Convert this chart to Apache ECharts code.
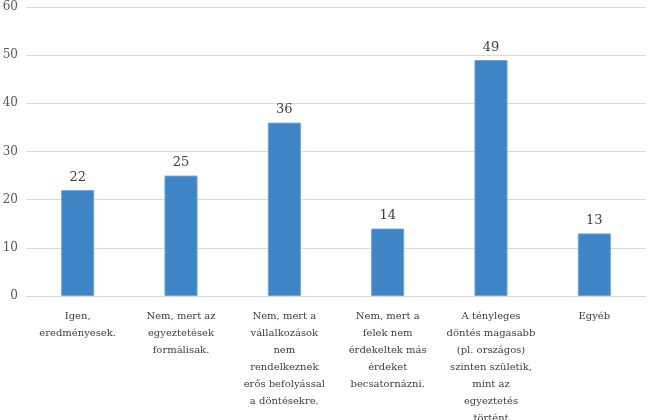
<!DOCTYPE html>
<html>
<head>
<meta charset="utf-8">
<script src="https://cdn.jsdelivr.net/npm/echarts@6/dist/echarts.min.js"></script>
<style>html,body{margin:0;padding:0;background:#fff}#c{width:656px;height:420px}</style>
</head>
<body>
<div id="c"></div>
<script>
const categories = [
  'Igen,\neredményesek.',
  'Nem, mert az\negyeztetések\nformálisak.',
  'Nem, mert a\nvállalkozások\nnem\nrendelkeznek\nerős befolyással\na döntésekre.',
  'Nem, mert a\nfelek nem\nérdekeltek más\nérdeket\nbecsatornázni.',
  'A tényleges\ndöntés magasabb\n(pl. országos)\nszinten születik,\nmint az\negyeztetés\ntörtént',
  'Egyéb'
];
const values = [22, 25, 36, 14, 49, 13];
const yTicks = { min: 0, max: 60, interval: 10 };

const font = 'DejaVu Serif';
const chart = echarts.init(document.getElementById('c'));
chart.setOption({
  animation: false,
  grid: { left: 26, right: 10, top: 7, bottom: 124, outerBoundsMode: 'none', containLabel: false },
  xAxis: {
    type: 'category',
    data: categories,
    axisLine: { lineStyle: { color: '#d9d9d9' } },
    axisTick: { show: false },
    axisLabel: { interval: 0, margin: 12, fontFamily: font, fontSize: 10, lineHeight: 17, color: '#404040', align: 'center' }
  },
  yAxis: {
    type: 'value',
    min: yTicks.min, max: yTicks.max, interval: yTicks.interval,
    axisLine: { show: false },
    axisTick: { show: false },
    splitLine: { lineStyle: { color: '#d9d9d9' } },
    axisLabel: { margin: 8, fontFamily: font, fontSize: 12, color: '#595959' }
  },
  series: [{
    type: 'bar',
    data: values,
    barWidth: '32%',
    itemStyle: { color: '#3f84c5', borderColor: '#6fa6da', borderWidth: 1 },
    label: { show: true, position: 'top', distance: 6, fontFamily: font, fontSize: 13, color: '#404040' }
  }]
});
</script>
</body>
</html>
